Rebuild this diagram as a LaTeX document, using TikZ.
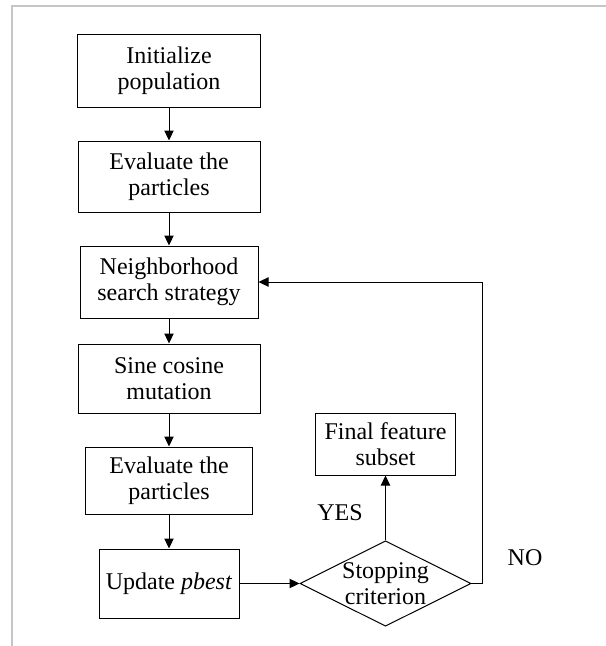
\documentclass[tikz,border=0pt]{standalone}
\usepackage{fontspec}
\setmainfont{Liberation Serif}
\usetikzlibrary{shapes.geometric,arrows.meta}

\begin{document}
\begin{tikzpicture}[x=0.75pt, y=-0.75pt, line width=0.75pt, font=\fontsize{18}{19.5}\selectfont]

	\def\px{0.75pt}
	\def\colX{169}

	\useasboundingbox (0,0) rectangle (606,646);

	% cornice grigia della figura
	\draw[gray!45, line width=1.2pt] (12,646) -- (12,6) -- (606,6);

	\tikzset{
		box/.style={draw, align=center, inner sep=0pt},
		decision/.style={draw, diamond, shape aspect=2, align=center, inner sep=0pt,
			minimum width=167*\px, minimum height=83*\px},
		arr/.style={-{Triangle[length=7.5pt, width=7pt]}}
	}

	% --- COLONNA PRINCIPALE ---
	\node[box, minimum width=183*\px, minimum height=73*\px] (init) at (\colX, 70.5) {Initialize\\population};
	\node[box, minimum width=182*\px, minimum height=71*\px] (evalA) at (\colX, 176.5) {Evaluate the\\particles};
	\node[box, minimum width=178*\px, minimum height=72*\px] (nbhd) at (\colX, 282) {Neighborhood\\search strategy};
	\node[box, minimum width=182*\px, minimum height=69*\px] (sinecos) at (\colX, 378.5) {Sine cosine\\mutation};
	\node[box, minimum width=167*\px, minimum height=67*\px] (evalB) at (\colX, 480.5) {Evaluate the\\particles};
	\node[box, minimum width=140*\px, minimum height=69*\px] (update) at (\colX, 583.5) {Update \textit{pbest}};

	% --- DECISIONE E USCITA ---
	\node[decision] (stop) at (385.5, 583.5) {Stopping\\criterion};
	\node[box, minimum width=140*\px, minimum height=62*\px] (final) at (385.5, 444) {Final feature\\subset};

	\node (yes) at (340, 513) {YES};
	\node (no) at (525, 558) {NO};

	% --- FRECCE ---
	\draw[arr] (init) -- (evalA);
	\draw[arr] (evalA) -- (nbhd);
	\draw[arr] (nbhd) -- (sinecos);
	\draw[arr] (sinecos) -- (evalB);
	\draw[arr] (evalB) -- (update);
	\draw[arr] (update) -- (stop);
	\draw[arr] (stop) -- (final);

	% ritorno (NO)
	\coordinate (turn) at (482, 583.5);
	\draw[arr] (stop.east) -- (turn) |- (nbhd.east);

\end{tikzpicture}
\end{document}
